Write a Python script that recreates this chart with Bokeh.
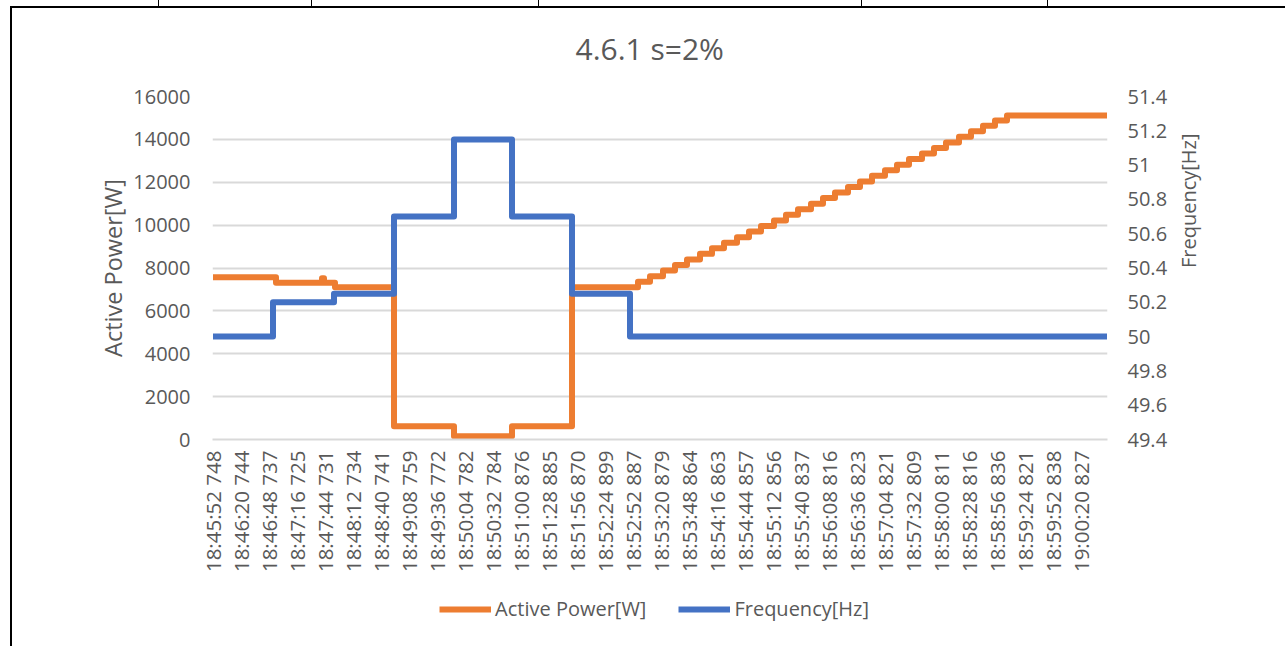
import math

from bokeh.embed import file_html
from bokeh.models import (CustomJSTickFormatter, FixedTicker, Legend,
                          LegendItem, LinearAxis, Range1d)
from bokeh.plotting import figure
from bokeh.resources import INLINE

# ---- data -------------------------------------------------------------
# one sample per second; the category axis shows every 28th timestamp
n_samples = 895
label_every = 28
time_labels = [
    "18:45:52 748", "18:46:20 744", "18:46:48 737", "18:47:16 725",
    "18:47:44 731", "18:48:12 734", "18:48:40 741", "18:49:08 759",
    "18:49:36 772", "18:50:04 782", "18:50:32 784", "18:51:00 876",
    "18:51:28 885", "18:51:56 870", "18:52:24 899", "18:52:52 887",
    "18:53:20 879", "18:53:48 864", "18:54:16 863", "18:54:44 857",
    "18:55:12 856", "18:55:40 837", "18:56:08 816", "18:56:36 823",
    "18:57:04 821", "18:57:32 809", "18:58:00 811", "18:58:28 816",
    "18:58:56 836", "18:59:24 821", "18:59:52 838", "19:00:20 827",
]

# frequency set-points: sample index where each level starts, level [Hz]
freq_start = [0, 60, 121, 181, 241, 299, 359, 417]
freq_level = [50.0, 50.2, 50.25, 50.7, 51.15, 50.7, 50.25, 50.0]

# active power response: sample index where each level starts, level [W]
power_start = [
    0, 63, 109, 111, 122, 181, 241, 299, 359,
    425, 437, 450, 462, 474, 487, 499, 511, 524, 536, 548,
    561, 573, 585, 598, 610, 622, 635, 647, 659, 672,
    684, 696, 709, 721, 733, 746, 758, 770, 782, 794,
]
power_level = [
    7570, 7310, 7520, 7310, 7105, 620, 150, 620, 7105,
    7360, 7620, 7880, 8140, 8400, 8660, 8920, 9180, 9440, 9700, 9960,
    10220, 10480, 10740, 11000, 11260, 11520, 11780, 12040, 12300, 12560,
    12820, 13080, 13340, 13600, 13860, 14120, 14380, 14640, 14880, 15110,
]

power_ticks = [0, 2000, 4000, 6000, 8000, 10000, 12000, 14000, 16000]
freq_ticks = [49.4, 49.6, 49.8, 50.0, 50.2, 50.4, 50.6, 50.8, 51.0, 51.2, 51.4]

# ---- styling ------------------------------------------------------------
FONT = "Open Sans"
TEXT = "#595959"
GRID = "#d9d9d9"
ORANGE = "#ed7d31"
BLUE = "#4472c4"
LW = 6

# page rules of the surrounding table: (left, top, width, height) in px
rules = [
    (10, 6, 1275, 2),     # top rule
    (10, 6, 2, 640),      # left rule
    (158, 0, 1, 7), (311, 0, 1, 7), (538, 0, 1, 7),
    (861, 0, 1, 7), (1047, 0, 1, 7),
]

p = figure(
    frame_width=895, frame_height=343,
    x_range=Range1d(-0.5, n_samples - 0.5),
    y_range=Range1d(power_ticks[0], power_ticks[-1]),
    output_backend="svg", toolbar_location=None,
    min_border_left=212, min_border_right=178,
    min_border_top=96, min_border_bottom=207,
    background_fill_color="white",
)
p.border_fill_alpha = 0
p.outline_line_color = None
p.styles = {
    "background-color": "white",
    "background-image": ", ".join(["linear-gradient(#000, #000)"] * len(rules)),
    "background-position": ", ".join(f"{l}px {t}px" for l, t, w, h in rules),
    "background-size": ", ".join(f"{w}px {h}px" for l, t, w, h in rules),
    "background-repeat": "no-repeat",
}

p.title.text = "4.6.1 s=2%"
p.title.text_font = FONT
p.title.text_font_size = "30px"
p.title.text_font_style = "normal"
p.title.text_color = TEXT
p.title.align = "left"
p.title.offset = 363
p.title.vertical_align = "middle"
p.title.standoff = 53

# extra range for the frequency axis
p.extra_y_ranges = {"freq": Range1d(freq_ticks[0], freq_ticks[-1])}

# series drawn as held levels
fx = freq_start + [n_samples - 1]
fy = freq_level + [freq_level[-1]]
px = power_start + [n_samples - 1]
py = power_level + [power_level[-1]]

r_power = p.step(px, py, mode="after", line_color=ORANGE, line_width=LW,
                 line_join="round")
r_freq = p.step(fx, fy, mode="after", line_color=BLUE, line_width=LW,
                line_join="round", y_range_name="freq")

# ---- axes ---------------------------------------------------------------
xa = p.xaxis[0]
xa.ticker = FixedTicker(ticks=[i * label_every for i in range(len(time_labels))])
xa.major_label_overrides = {i * label_every: lab for i, lab in enumerate(time_labels)}
xa.major_label_orientation = math.pi / 2
xa.major_label_text_font = FONT
xa.major_label_text_font_size = "20.5px"
xa.major_label_text_color = TEXT
xa.major_label_standoff = 11
xa.major_tick_out = 0
xa.major_tick_line_color = None
xa.minor_tick_line_color = None
xa.axis_line_color = GRID
xa.axis_line_width = 2

ya = p.yaxis[0]
ya.ticker = FixedTicker(ticks=power_ticks)
ya.axis_label = "Active Power[W]"
ya.axis_label_text_font = FONT
ya.axis_label_text_font_size = "23.5px"
ya.axis_label_text_font_style = "normal"
ya.axis_label_text_color = TEXT
ya.axis_label_standoff = 1
ya.major_label_text_font = FONT
ya.major_label_text_font_size = "20px"
ya.major_label_text_color = TEXT
ya.major_label_standoff = 22
ya.major_tick_out = 0
ya.major_tick_line_color = None
ya.minor_tick_line_color = None
ya.axis_line_color = None

ra = LinearAxis(y_range_name="freq", ticker=FixedTicker(ticks=freq_ticks))
ra.formatter = CustomJSTickFormatter(
    code="return tick.toFixed(1).replace(/\\.0$/, '');")
ra.axis_label = "Frequency[Hz]"
if hasattr(ra, "axis_label_orientation"):
    ra.axis_label_orientation = math.pi / 2
ra.axis_label_text_align = "center"
ra.axis_label_text_font = FONT
ra.axis_label_text_font_size = "20px"
ra.axis_label_text_font_style = "normal"
ra.axis_label_text_color = TEXT
ra.axis_label_standoff = 18
ra.major_label_text_font = FONT
ra.major_label_text_font_size = "20px"
ra.major_label_text_color = TEXT
ra.major_label_standoff = 20
ra.major_tick_out = 0
ra.major_tick_line_color = None
ra.minor_tick_line_color = None
ra.axis_line_color = None
p.add_layout(ra, "right")

p.xgrid.visible = False
p.ygrid.ticker = FixedTicker(ticks=power_ticks)
p.ygrid.grid_line_color = GRID
p.ygrid.grid_line_width = 2

# ---- legend: side panel, offset to sit under the time labels -------------
legend = Legend(
    items=[LegendItem(label="Active Power[W]", renderers=[r_power]),
           LegendItem(label="Frequency[Hz]", renderers=[r_freq])],
    orientation="horizontal", location=(-1227, -183),
    label_text_font=FONT, label_text_font_size="20px", label_text_color=TEXT,
    glyph_width=52, glyph_height=20, label_standoff=4, spacing=32,
    margin=0, padding=5,
    border_line_color=None, background_fill_alpha=0,
)
p.add_layout(legend, "right")

open("out.html", "w").write(file_html(p, INLINE))
